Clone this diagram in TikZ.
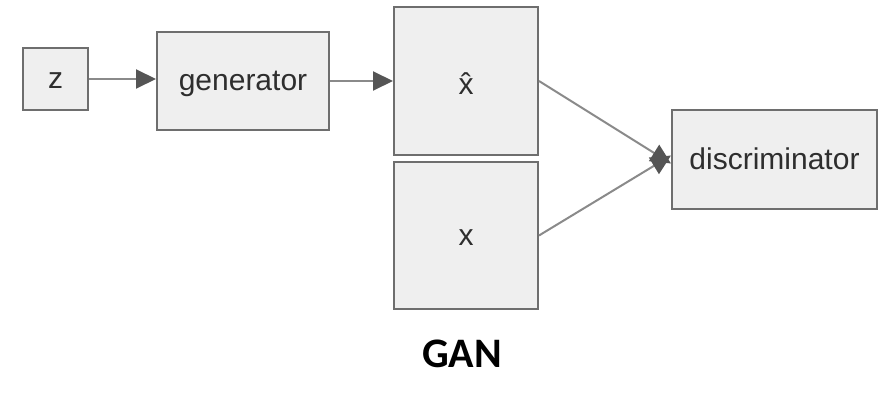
\documentclass[tikz,border=0pt]{standalone}
\usepackage{fontspec}
\setmainfont{Liberation Sans}
\newfontfamily\capfont{Carlito}
\usetikzlibrary{arrows.meta}
\definecolor{boxfill}{HTML}{EFEFEF}
\definecolor{boxline}{HTML}{6E6E6E}
\definecolor{arrline}{HTML}{8A8A8A}
\definecolor{tipcol}{HTML}{555555}
\definecolor{txt}{HTML}{2E2E2E}
\begin{document}
\begin{tikzpicture}[x=1pt,y=-1pt,
  blk/.style={draw=boxline,fill=boxfill,line width=2pt,inner sep=0pt,font=\fontsize{30}{33}\selectfont,text=txt,text height=19pt,text depth=0pt},
  conn/.style={draw=arrline,line width=2pt,-{Triangle[length=20pt,width=19pt,fill=tipcol,color=tipcol]}}]
\useasboundingbox (0,0) rectangle (887,396);
\node[blk,minimum width=65pt,minimum height=62pt] (z) at (55.5,79) {z};
\node[blk,minimum width=172pt,minimum height=98pt] (gen) at (243,81) {generator};
\node[blk,minimum width=144pt,minimum height=148pt] (xh) at (466,81) {\raisebox{-4pt}{\^{x}}};
\node[blk,minimum width=144pt,minimum height=147pt] (x) at (466,235.5) {x};
\node[blk,minimum width=205pt,minimum height=99pt] (dis) at (774.5,159.5) {discriminator};
\node[font=\capfont\bfseries\fontsize{42}{46}\selectfont] (cap) at (462,354) {GAN};
\draw[conn] (z.east) -- (z.east -| gen.west);
\draw[conn] (gen.east) -- (xh.west);
\draw[conn] (xh.east) -- ([yshift=-4pt]dis.west);
\draw[conn] (x.east) -- ([yshift=4pt]dis.west);
\end{tikzpicture}
\end{document}
